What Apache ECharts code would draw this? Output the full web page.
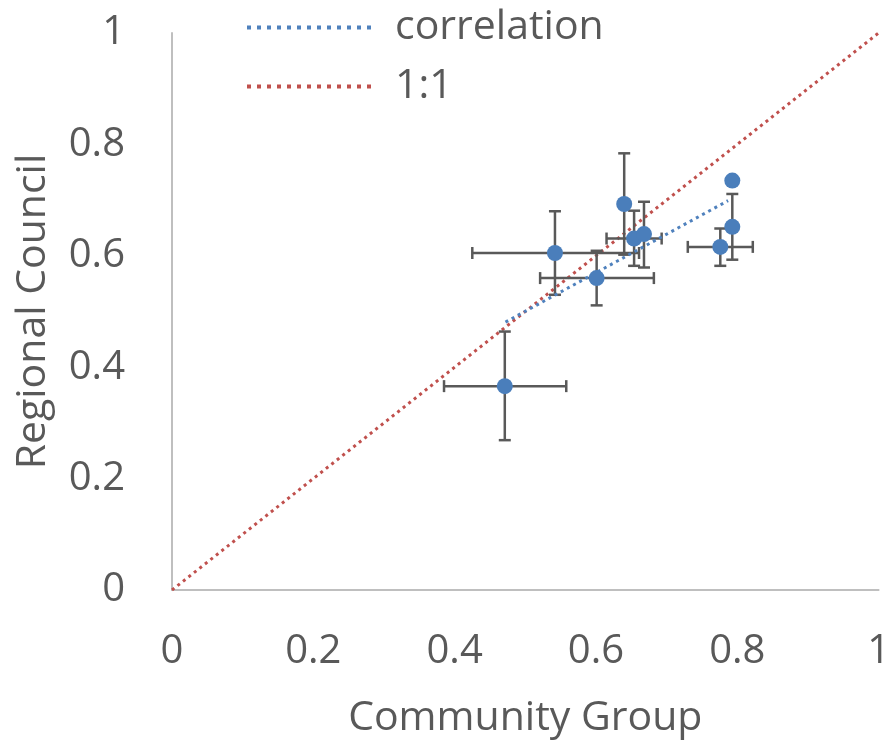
<!DOCTYPE html>
<html>
<head>
<meta charset="utf-8">
<script src="https://cdn.jsdelivr.net/npm/echarts@6/dist/echarts.min.js"></script>
<style>
html,body{margin:0;padding:0;background:#fff;}
#chart{width:893px;height:744px;}
</style>
</head>
<body>
<div id="chart"></div>
<script>
// Community Group (x) vs Regional Council (y)
var pointX = [0.471, 0.542, 0.601, 0.640, 0.654, 0.668, 0.793, 0.793, 0.776];
var pointY = [0.366, 0.605, 0.560, 0.693, 0.631, 0.639, 0.735, 0.652, 0.616];
// error bar extents (null = none)
var xLow  = [0.385, 0.425, 0.521, null, 0.615, null, null, null, 0.730];
var xHigh = [0.558, 0.661, 0.682, null, 0.693, null, null, null, 0.822];
var yLow  = [0.269, 0.530, 0.511, 0.602, 0.582, 0.579, null, 0.593, 0.582];
var yHigh = [0.464, 0.680, 0.609, 0.784, 0.681, 0.697, null, 0.711, 0.649];
// trend lines
var correlationLine = [[0.472, 0.481], [0.787, 0.699]];
var oneToOneLine = [[0, 0], [1, 1]];
var axisTicks = [0, 0.2, 0.4, 0.6, 0.8, 1];

var scatterData = pointX.map(function (x, i) { return [x, pointY[i]]; });
var errData = pointX.map(function (x, i) {
  return [x, pointY[i], xLow[i], xHigh[i], yLow[i], yHigh[i]];
});

var FONT = 'Open Sans';
var TXT = '#595959';
var chart = echarts.init(document.getElementById('chart'));

function renderErr(params, api) {
  var x = api.value(0), y = api.value(1);
  var xl = api.value(2), xh = api.value(3), yl = api.value(4), yh = api.value(5);
  var children = [];
  var cap = 6;
  var st = { stroke: '#595959', lineWidth: 2.5 };
  if (!isNaN(yl) && !isNaN(yh)) {
    var p1 = api.coord([x, yl]), p2 = api.coord([x, yh]);
    children.push({ type: 'line', shape: { x1: p1[0], y1: p1[1], x2: p2[0], y2: p2[1] }, style: st });
    children.push({ type: 'line', shape: { x1: p1[0] - cap, y1: p1[1], x2: p1[0] + cap, y2: p1[1] }, style: st });
    children.push({ type: 'line', shape: { x1: p2[0] - cap, y1: p2[1], x2: p2[0] + cap, y2: p2[1] }, style: st });
  }
  if (!isNaN(xl) && !isNaN(xh)) {
    var q1 = api.coord([xl, y]), q2 = api.coord([xh, y]);
    children.push({ type: 'line', shape: { x1: q1[0], y1: q1[1], x2: q2[0], y2: q2[1] }, style: st });
    children.push({ type: 'line', shape: { x1: q1[0], y1: q1[1] - cap, x2: q1[0], y2: q1[1] + cap }, style: st });
    children.push({ type: 'line', shape: { x1: q2[0], y1: q2[1] - cap, x2: q2[0], y2: q2[1] + cap }, style: st });
  }
  return { type: 'group', children: children };
}

var legendCommon = {
  left: 240, itemWidth: 125, itemHeight: 14, itemGap: 10,
  itemStyle: { opacity: 0 },
  lineStyle: { width: 4, type: [4, 6] },
  textStyle: { fontFamily: FONT, fontSize: 41, color: TXT, padding: [0, 0, 0, 18] }
};

chart.setOption({
  backgroundColor: '#ffffff',
  animation: false,
  textStyle: { fontFamily: FONT },
  legend: [
    echarts.util.merge({ data: ['correlation'], top: 2 }, legendCommon),
    echarts.util.merge({ data: ['1:1'], top: 61 }, legendCommon)
  ],
  grid: { left: 172, right: 13, top: 33, bottom: 153, containLabel: false },
  xAxis: {
    type: 'value', min: axisTicks[0], max: axisTicks[axisTicks.length - 1], interval: 0.2,
    name: 'Community Group', nameLocation: 'middle', nameGap: 108,
    nameTextStyle: { fontFamily: FONT, fontSize: 41, color: TXT },
    axisLine: { show: true, lineStyle: { color: '#bfbfbf', width: 2 } },
    axisTick: { show: false },
    splitLine: { show: false },
    axisLabel: { fontFamily: FONT, fontSize: 40, color: TXT, margin: 42 }
  },
  yAxis: {
    type: 'value', min: axisTicks[0], max: axisTicks[axisTicks.length - 1], interval: 0.2,
    name: 'Regional Council', nameLocation: 'middle', nameGap: 118, nameRotate: 90,
    nameTextStyle: { fontFamily: FONT, fontSize: 41, color: TXT },
    axisLine: { show: true, lineStyle: { color: '#bfbfbf', width: 2 } },
    axisTick: { show: false },
    splitLine: { show: false },
    axisLabel: { fontFamily: FONT, fontSize: 40, color: TXT, margin: 47 }
  },
  series: [
    {
      name: '1:1', type: 'line', data: oneToOneLine, symbol: 'none', z: 1,
      lineStyle: { color: '#c0504d', width: 3, type: [3, 4] },
      itemStyle: { color: '#c0504d' }
    },
    {
      name: 'errors', type: 'custom', renderItem: renderErr, data: errData, z: 2,
      encode: { x: 0, y: 1 }
    },
    {
      name: 'correlation', type: 'line', data: correlationLine, symbol: 'none', z: 3,
      lineStyle: { color: '#4f81bd', width: 3, type: [3, 4] },
      itemStyle: { color: '#4f81bd' }
    },
    {
      name: 'points', type: 'scatter', data: scatterData, symbolSize: 16, z: 4,
      itemStyle: { color: '#4a7ebb', opacity: 1 }
    }
  ]
});
</script>
</body>
</html>
